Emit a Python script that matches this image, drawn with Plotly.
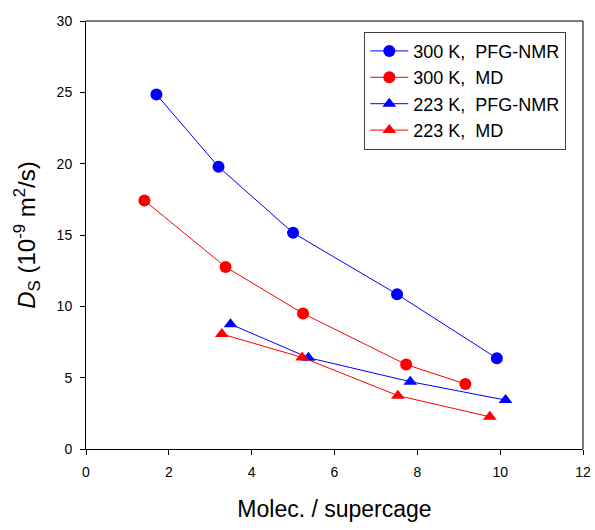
import plotly.graph_objects as go

# Data
x_300_nmr = [1.70, 3.20, 5.00, 7.51, 9.92]
y_300_nmr = [24.85, 19.78, 15.15, 10.85, 6.36]

x_300_md = [1.41, 3.37, 5.24, 7.73, 9.16]
y_300_md = [17.42, 12.76, 9.50, 5.92, 4.56]

x_223_nmr = [3.49, 5.37, 7.83, 10.13]
y_223_nmr = [8.75, 6.40, 4.72, 3.43]

x_223_md = [3.28, 5.22, 7.53, 9.75]
y_223_md = [8.06, 6.42, 3.74, 2.26]

names = ["300 K,  PFG-NMR", "300 K,  MD", "223 K,  PFG-NMR", "223 K,  MD"]
x_ticks = [0, 2, 4, 6, 8, 10, 12]
y_ticks = [0, 5, 10, 15, 20, 25, 30]

BLUE = "#0000FF"
RED = "#FF0000"
SANS = "Liberation Sans, Arial, sans-serif"

series = [
    (x_300_nmr, y_300_nmr, names[0], BLUE, "circle"),
    (x_300_md, y_300_md, names[1], RED, "circle"),
    (x_223_nmr, y_223_nmr, names[2], BLUE, "triangle-up"),
    (x_223_md, y_223_md, names[3], RED, "triangle-up"),
]

fig = go.Figure()
for xs, ys, nm, col, sym in series:
    fig.add_trace(go.Scatter(
        x=xs, y=ys, name=nm, mode="lines+markers",
        line=dict(color=col, width=1),
        marker=dict(color=col, symbol=sym, size=12, line=dict(width=0)),
    ))

fig.update_layout(
    width=595, height=530,
    margin=dict(l=86, r=12, t=21, b=81, autoexpand=False),
    paper_bgcolor="white", plot_bgcolor="white",
    showlegend=True,
    legend=dict(
        x=0.56, y=0.975, xanchor="left", yanchor="top",
        bgcolor="white", bordercolor="#404040", borderwidth=1,
        font=dict(family=SANS, size=18, color="black"),
        itemwidth=38, tracegroupgap=0,
    ),
    xaxis=dict(
        range=[0, 12], tickvals=x_ticks, ticktext=[str(v) for v in x_ticks],
        ticks="outside", ticklen=5, tickcolor="black", tickwidth=1,
        showline=True, linecolor="black", linewidth=1, mirror=False,
        showgrid=False, zeroline=False, automargin=False,
        ticklabelstandoff=5,
        tickfont=dict(family=SANS, size=14, color="black"),
        title=dict(text="Molec. / supercage", font=dict(family=SANS, size=23, color="black"), standoff=22),
    ),
    yaxis=dict(
        range=[0, 30], tickvals=y_ticks, ticktext=[str(v) for v in y_ticks],
        ticks="outside", ticklen=5, tickcolor="black", tickwidth=1,
        showline=True, linecolor="black", linewidth=1, mirror=False,
        showgrid=False, zeroline=False, automargin=False,
        ticklabelstandoff=5,
        tickfont=dict(family=SANS, size=14, color="black"),
        title=dict(text="<i>D</i><sub>S</sub> (10<sup>-9</sup> m<sup>2</sup>/s)",
                   font=dict(family=SANS, size=24, color="black"), standoff=14),
    ),
)

# grey top and right frame lines
fig.add_shape(type="line", xref="paper", yref="paper", x0=0, x1=1, y0=1, y1=1,
              line=dict(color="#505050", width=1.5))
fig.add_shape(type="line", xref="paper", yref="paper", x0=1, x1=1, y0=0, y1=1,
              line=dict(color="#505050", width=1.5))

fig.write_html("out.html")
